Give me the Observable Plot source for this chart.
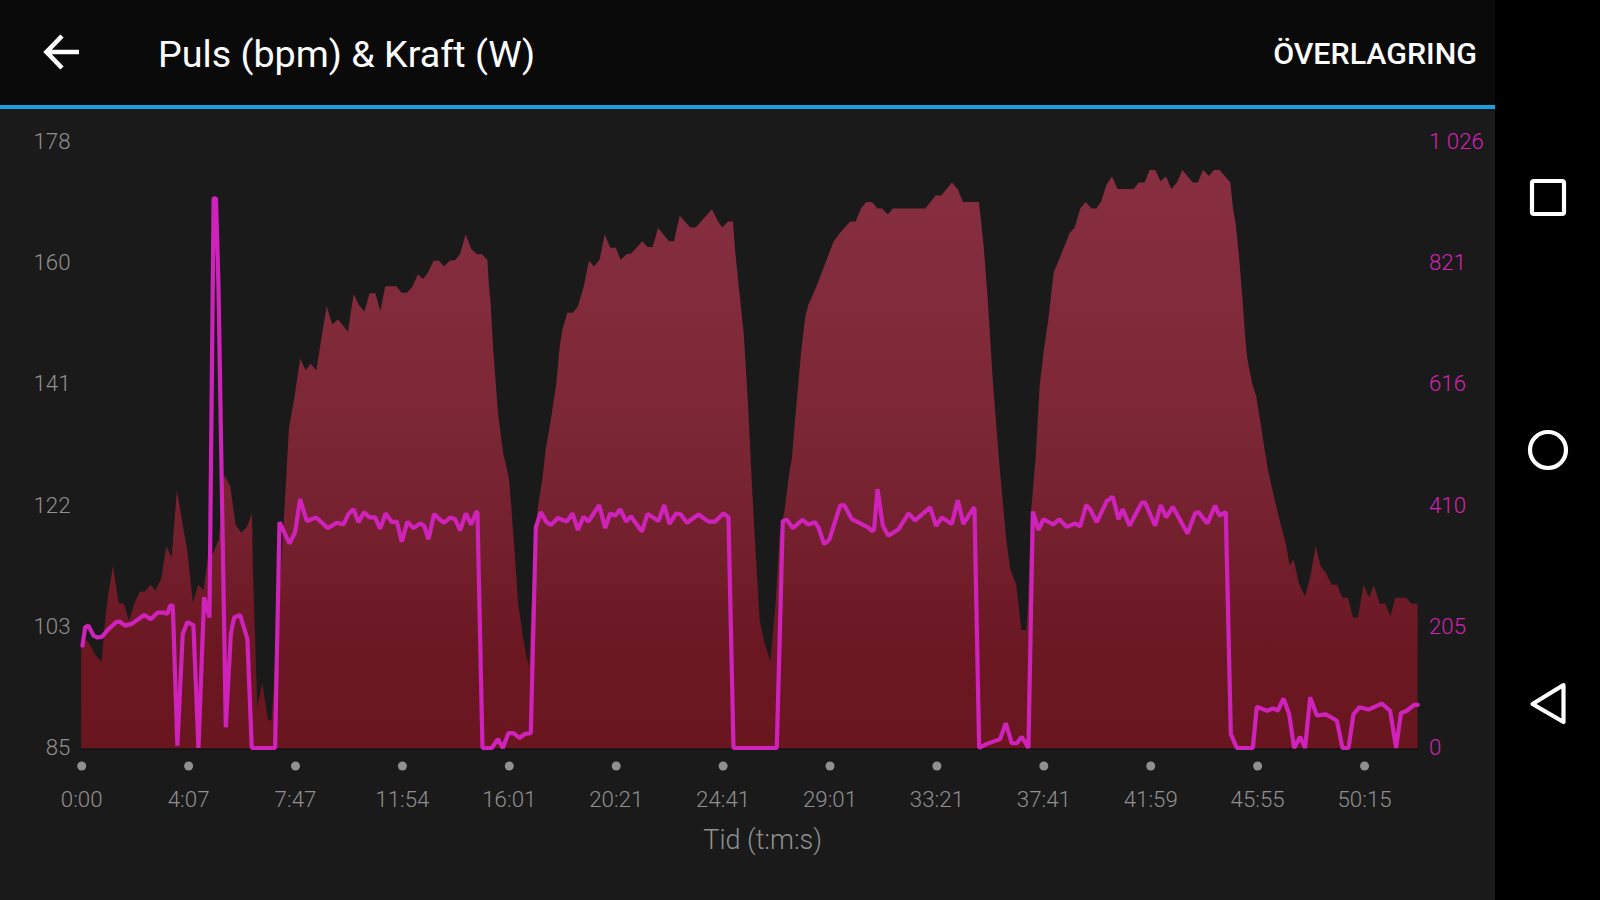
<!DOCTYPE html>
<html lang="sv">
<head>
<meta charset="utf-8">
<script src="https://cdn.jsdelivr.net/npm/d3@7"></script>
<script src="https://cdn.jsdelivr.net/npm/@observablehq/plot@0.6"></script>
<style>
html,body{margin:0;padding:0;width:1600px;height:900px;overflow:hidden;background:#1a1a1a;font-family:Roboto,sans-serif}
#chart{position:absolute;left:0;top:0}
#bar{position:absolute;left:0;top:0;width:1495px;height:105px;background:#0a0a0a;border-bottom:4.5px solid #1a9fdf}
#title{position:absolute;left:158px;top:30px;font-size:37.7px;line-height:48px;color:#fff;white-space:nowrap}
#overlay{position:absolute;right:18px;top:36px;font-size:30.4px;line-height:36px;font-weight:500;color:#fff;white-space:nowrap}
#nav{position:absolute;left:1495px;top:0;width:105px;height:900px;background:#000}
#icons{position:absolute;left:0;top:0;pointer-events:none}
</style>
</head>
<body>
<div id="chart"></div>
<div id="bar"><div id="title">Puls (bpm) &amp; Kraft (W)</div><div id="overlay">ÖVERLAGRING</div></div>
<div id="nav"></div>
<svg id="icons" width="1600" height="900" fill="none" stroke="#fff">
  <path d="M62 36 L46.5 52 L62 68 M46.5 52 H79" stroke-width="4.6"/>
  <rect x="1532" y="181" width="32" height="33" rx="2" stroke-width="4.2"/>
  <circle cx="1548" cy="450" r="18" stroke-width="4.2"/>
  <path d="M1563.5 685 L1532.5 704 L1563.5 722 Z" stroke-width="4.2" stroke-linejoin="round"/>
</svg>
<script>
// x position: hundredths of one tick interval along the sample axis
const xTickLabels = ["0:00","4:07","7:47","11:54","16:01","20:21","24:41","29:01","33:21","37:41","41:59","45:55","50:15"];
const xTicks = xTickLabels.map((_, i) => i * 100);
const bpmLabels = ["85","103","122","141","160","178"];
const wattLabels = ["0","205","410","616","821","1 026"];
const bpmMin = 85, bpmMax = 178, wattMax = 1026;

const heartRate = [
[0,101.9],[6.3,101.4],[13.5,99.3],[19.1,98.3],[22.8,105.2],[25,108.3],[29.7,113],[35,107.3],[40,107.2],[44.6,104.6],
[50,107.3],[54.6,109],[60,109.1],[64.6,110.1],[69.6,109.2],[74.9,111.1],[79.6,116],[84.6,114.3],[89.5,124.6],[95.2,119],
[99.2,115.4],[104.5,107.3],[109.5,110.1],[114.5,109.3],[118.5,114.4],[123.2,114.9],[128.8,117],[134.1,126.9],[139.4,125.2],[144.4,119.3],
[149.7,118.1],[155,119],[159.7,121],[160.6,112.4],[163.8,96],[164.7,91.4],[169.4,95],[174.7,89.4],[178.1,89.3],[191.8,126.4],
[194.3,134.1],[199.6,139],[204.9,144.8],[209.9,143],[214.6,144],[219.9,143],[229.6,152.8],[234.9,150],[240.2,150.8],[249.5,148.9],
[254.8,154.7],[259.8,153],[264.8,152],[269.8,154.8],[275.1,154.8],[279.8,152.1],[284.4,155.9],[294.7,155.9],[299.7,154.9],[304.7,154.9],
[309.7,155.8],[315,157.7],[319.7,157],[324.4,158],[329.7,159.8],[334.7,159.8],[339.4,158.9],[344.7,159.8],[350,159.9],[354.6,160.9],
[359.6,163.8],[364.9,161.6],[370.2,160.8],[374.9,160.8],[379.9,159.9],[381.5,155.8],[383,153.3],[385.2,146.6],[389.9,136.4],[394.6,130.3],
[397.7,128.2],[400.2,126.2],[402.3,122.1],[405.5,114.9],[408.6,107.3],[413.3,102.1],[416.4,99.1],[418.9,97.5],[420.4,103.7],[424.2,117.5],
[427.3,122.1],[431.3,126.2],[434.5,130.8],[439.8,135.9],[444.4,141],[447.6,146.6],[450.1,149.2],[454.7,151.8],[460,151.8],[464.7,152.8],
[470,155.8],[475,159.8],[479.7,158.9],[485,160],[489.7,163.8],[495,161.8],[500,161.8],[504.6,159.9],[509.9,160.8],[514.6,160.9],
[524.9,162.8],[529.6,161.9],[534.6,161.9],[539.6,164.8],[549.8,162.8],[554.5,162.8],[559.8,166.7],[569.8,164.9],[574.8,164.9],[590,167.7],
[595.1,166],[599.7,164.9],[605,165.8],[609.7,165.8],[611.3,162],[614.4,156.9],[619.7,148.7],[623.7,137.9],[626.9,127],[630,117.5],
[634.6,104.7],[639.3,101.1],[644.6,98.3],[649.6,107.3],[653.3,117.5],[658,121.6],[662.7,127.7],[664.8,129.5],[668.3,136.4],[673.6,146.1],
[677.3,151.2],[680.1,153],[687.6,155.8],[703.8,162.7],[709.4,164],[719.4,165.8],[724.4,165.8],[729.4,167.8],[734.4,168.8],[739.7,168.8],
[744.7,167.8],[749,167.8],[754.6,166.9],[759.3,167.8],[789.6,167.8],[799.2,169.8],[804.5,169.8],[814.5,171.8],[820.1,170.7],[824.8,168.8],
[839.8,168.8],[844.2,162],[847.6,154.8],[852.9,141],[858.5,129.2],[862.2,122.6],[865.3,117],[869.1,112.4],[874.7,110.1],[879.4,103.2],
[884,103.1],[885.6,107.3],[888.7,121.6],[891.8,127.7],[892.8,129.5],[896.5,140.5],[900.3,145.9],[904.6,150.7],[909.6,157.9],[924.6,164],
[929.3,164.9],[934.6,167.8],[939.6,168.8],[944.9,167.8],[949.5,167.8],[954.2,168.9],[958.9,171.4],[964.2,172.7],[969.5,170.8],[984.5,170.8],
[989.5,171.8],[994.8,171.8],[999.4,173.7],[1004.7,173.7],[1009.7,172],[1014.7,172.7],[1019.7,170.8],[1025,171.8],[1030,173.7],[1039.7,171.8],
[1044.6,171.8],[1049.3,173.7],[1054.9,172.8],[1059.6,173.7],[1064.9,173.7],[1074.9,171.8],[1077.4,167.8],[1079.9,165.5],[1083,160.4],[1086.1,154.3],
[1088.3,149.2],[1090.5,145.1],[1095.2,141],[1099.2,139],[1103,135.1],[1107,130.8],[1110.1,127.7],[1116.4,123.1],[1122.6,119],[1127.3,116],
[1130.4,113.1],[1134.1,114],[1139.1,110.3],[1144.7,108.3],[1149.7,111.3],[1154.7,116],[1159.4,112.9],[1164.1,112],[1169.7,110.1],[1174.7,110.1],
[1179.7,108.1],[1185,108.1],[1189.6,105.1],[1194.3,105.1],[1199.6,110.1],[1204.6,108.2],[1209.3,110],[1214.6,107.2],[1219.9,107.2],[1224.6,105.2],
[1229.2,108.1],[1239.5,108.1],[1244.2,107.2],[1250,107.2]
];

const power = [
[0.7,173],[3.2,204],[6.3,207],[11,190],[14.7,187],[18.8,188],[25,201],[32.2,213],[35.3,214],[40.6,207],
[46.8,210],[58.4,225],[64.6,218],[70.8,229],[76.5,229],[80.2,227],[82.7,241],[85.2,241],[89.5,4],[94.5,193],
[98.9,213],[104.5,208],[109.2,0],[114.5,255],[119.5,221],[123.4,930],[125.6,930],[127.9,785],[134.8,35],[139.5,193],[142.6,221],
[148.2,225],[155,184],[159.1,0],[180.9,0],[185,382],[194.3,346],[199.6,365],[204.3,421],[210.5,384],[219.3,390],
[230.2,372],[238.6,381],[244.8,378],[249.5,396],[254.2,404],[258.9,382],[264.2,399],[269.2,390],[274.5,390],[279.1,371],
[284.4,397],[290,382],[294.7,383],[299.4,349],[304.7,383],[310.3,372],[316.6,380],[320.3,376],[324.4,353],[329.7,396],
[334.7,387],[339,381],[344.7,390],[349.3,387],[354,368],[359.3,397],[364.3,378],[369,399],[370.2,399],[374.9,0],
[383.6,0],[389.3,15],[393.9,0],[399.2,25],[403.9,25],[409.5,17],[414.8,24],[420.1,25],[424.8,373],[429.5,399],
[434.5,383],[438.8,377],[445.4,389],[453.8,383],[459.1,397],[464.1,369],[469.4,391],[474,383],[484,411],[489.7,372],
[494.3,397],[499,393],[503.7,404],[509.3,383],[513.7,392],[524,366],[529.3,396],[539.6,384],[544.9,411],[549.8,379],
[556.1,397],[560.4,395],[566.1,381],[577,395],[586.3,383],[592.6,383],[600.4,397],[605,390],[609.7,0],[650.2,0],
[655.8,384],[659.5,386],[665.2,372],[674.2,386],[679.8,378],[686,382],[689.2,373],[694.5,345],[699.5,353],[709.4,410],
[713.2,411],[720.4,387],[736,373],[739,367],[741.2,369],[744.4,438],[749.4,376],[754.6,359],[764,370],[773.4,397],
[779.6,385],[793.6,407],[799.2,376],[804.5,390],[813.9,379],[819.5,419],[824.8,379],[834.2,406],[835.1,406],[839.5,0],
[846.6,7],[859.1,15],[864.4,42],[870,8],[874.7,8],[879.4,19],[885.6,0],[889.7,400],[895,369],[899.7,387],
[909,378],[914.3,387],[921.5,374],[929.3,380],[934,375],[939.6,411],[943.3,404],[949.5,382],[958.9,418],[964.5,425],
[969.8,387],[973.9,404],[980.1,376],[991.6,415],[994.8,415],[1004.1,376],[1009.4,411],[1014.4,390],[1020.6,408],[1034.4,363],
[1041.5,397],[1044.6,399],[1053,380],[1060.2,410],[1064.3,393],[1070.2,399],[1074.9,24],[1080.5,0],[1095.5,0],[1099.2,70],
[1108.6,63],[1114.8,67],[1118.8,63],[1124.2,84],[1129.5,57],[1134.1,0],[1139.7,19],[1144.4,0],[1149.1,86],[1155.3,55],
[1163.8,57],[1174.1,46],[1179.4,0],[1185,0],[1189.6,57],[1195.3,69],[1203.7,65],[1216.1,75],[1223.9,63],[1229.5,0],
[1234,59],[1239.5,63],[1246.4,73],[1249.8,73]
];

const bpmTicks = bpmLabels.map((_, i) => bpmMin + i * (bpmMax - bpmMin) / 5);
const wattToBpm = w => bpmMin + w * (bpmMax - bpmMin) / wattMax;
const gridGrey = "#909090", magenta = "#d024b4", lineColor = "#cf22bb";
const font = 22.3;

const gradient = () => {
  const defs = d3.create("svg:defs");
  const g = defs.append("linearGradient").attr("id", "hrFill").attr("gradientUnits", "userSpaceOnUse")
    .attr("x1", 0).attr("x2", 0).attr("y1", 170).attr("y2", 748.5);
  g.append("stop").attr("offset", "0").attr("stop-color", "#872f41");
  g.append("stop").attr("offset", "0.5").attr("stop-color", "#7a2534");
  g.append("stop").attr("offset", "0.85").attr("stop-color", "#6a1722");
  g.append("stop").attr("offset", "1").attr("stop-color", "#69161f");
  return defs.node();
};

const plot = Plot.plot({
  width: 1600,
  height: 900,
  marginLeft: 81.2,
  marginRight: 182.5,
  marginTop: 142,
  marginBottom: 151.5,
  style: {background: "#1a1a1a", fontFamily: "Roboto, sans-serif", fontWeight: 300, overflow: "visible"},
  x: {domain: [0, 1250], label: null},
  y: {domain: [bpmMin, bpmMax], label: null},
  marks: [
    gradient,
    Plot.areaY(heartRate, {x: d => d[0], y1: bpmMin, y2: d => d[1], fill: "url(#hrFill)", curve: "linear"}),
    Plot.ruleY([bpmMin], {stroke: "#0e0e0e", strokeWidth: 1}),
    Plot.lineY(power, {x: d => d[0], y: d => wattToBpm(d[1]), dy: -1, stroke: lineColor, strokeWidth: 4.2, strokeLinejoin: "bevel", curve: "linear"}),
    Plot.dot(xTicks, {x: d => d, frameAnchor: "bottom", dy: 17, r: 4.5, fill: gridGrey}),
    Plot.axisX({ticks: xTicks, tickFormat: (d, i) => xTickLabels[i], tickSize: 0, tickPadding: 42.2, fontSize: font, color: gridGrey, label: null, anchor: "bottom"}),
    Plot.axisY({ticks: bpmTicks, tickFormat: (d, i) => bpmLabels[i], tickSize: 0, tickPadding: 11.2, fontSize: font, color: gridGrey, label: null, anchor: "left", dy: -0.8}),
    Plot.axisY({ticks: bpmTicks, tickFormat: (d, i) => wattLabels[i], tickSize: 0, tickPadding: 11, fontSize: font, color: magenta, label: null, anchor: "right", dy: -0.8}),
    Plot.text(["Tid (t:m:s)"], {x: 637, frameAnchor: "bottom", dy: 91.5, lineAnchor: "middle", fontSize: 27, fill: gridGrey})
  ]
});
document.getElementById("chart").appendChild(plot);
</script>
</body>
</html>
